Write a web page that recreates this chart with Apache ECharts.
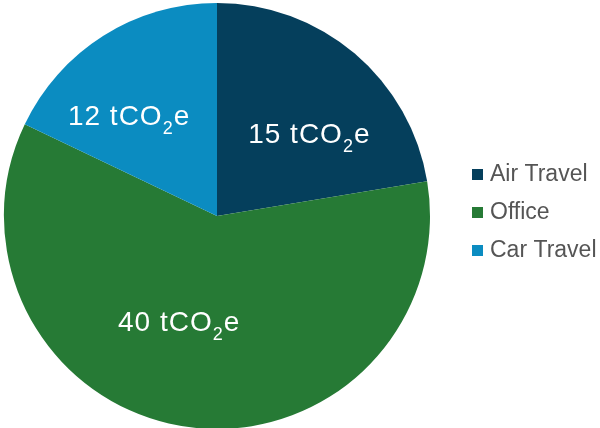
<!DOCTYPE html>
<html>
<head>
<meta charset="utf-8">
<script src="https://cdn.jsdelivr.net/npm/echarts@6/dist/echarts.min.js"></script>
<style>
  html, body { margin: 0; padding: 0; background: #ffffff; }
  #chart { width: 600px; height: 428px; }
</style>
</head>
<body>
<div id="chart"></div>
<script>
// Emissions by source, in tonnes of CO2-equivalent
const categories = ['Air Travel', 'Office', 'Car Travel'];
const emissions = [15, 40, 12];
const colors = ['#053f5c', '#267a35', '#0b8cc1'];
// nudges that place each value label inside its slice
const labelOffsets = [[21, 1], [-23, -3], [-30, -8]];

const FONT = '"Liberation Sans", Arial, Helvetica, sans-serif';

// Each character is its own rich token so the label can be tracked out a little
function unitLabel(value) {
  const chars = (value + ' tCO').split('');
  return chars.map(c => '{a|' + c + '}').join('') + '{s|2}{a|e}';
}

const chart = echarts.init(document.getElementById('chart'), null, { renderer: 'canvas' });

const data = categories.map((name, i) => ({
  name: name,
  value: emissions[i],
  itemStyle: { color: colors[i] },
  label: { offset: labelOffsets[i] }
}));

chart.setOption({
  animation: false,
  textStyle: { fontFamily: FONT },
  legend: {
    orient: 'vertical',
    left: 467,
    top: 156,
    icon: 'rect',
    itemWidth: 11,
    itemHeight: 11,
    itemGap: 11,
    data: categories,
    textStyle: {
      fontSize: 23,
      lineHeight: 27,
      color: '#555555',
      padding: [0, 0, 0, 2],
      fontFamily: FONT
    }
  },
  series: [{
    type: 'pie',
    center: [217, 216],
    radius: [0, 213],
    startAngle: 90,
    clockwise: true,
    avoidLabelOverlap: false,
    label: {
      show: true,
      position: 'inside',
      formatter: p => unitLabel(p.value),
      rich: {
        a: { color: '#ffffff', fontSize: 28, fontFamily: FONT, lineHeight: 32, verticalAlign: 'bottom', padding: [0, 0.5, 0, 0.5] },
        s: { color: '#ffffff', fontSize: 18, fontFamily: FONT, lineHeight: 32, verticalAlign: 'bottom', padding: [0, 0.5, -7, 0.5] }
      }
    },
    labelLine: { show: false },
    itemStyle: { borderWidth: 0 },
    emphasis: { disabled: true },
    data: data
  }]
});
</script>
</body>
</html>
